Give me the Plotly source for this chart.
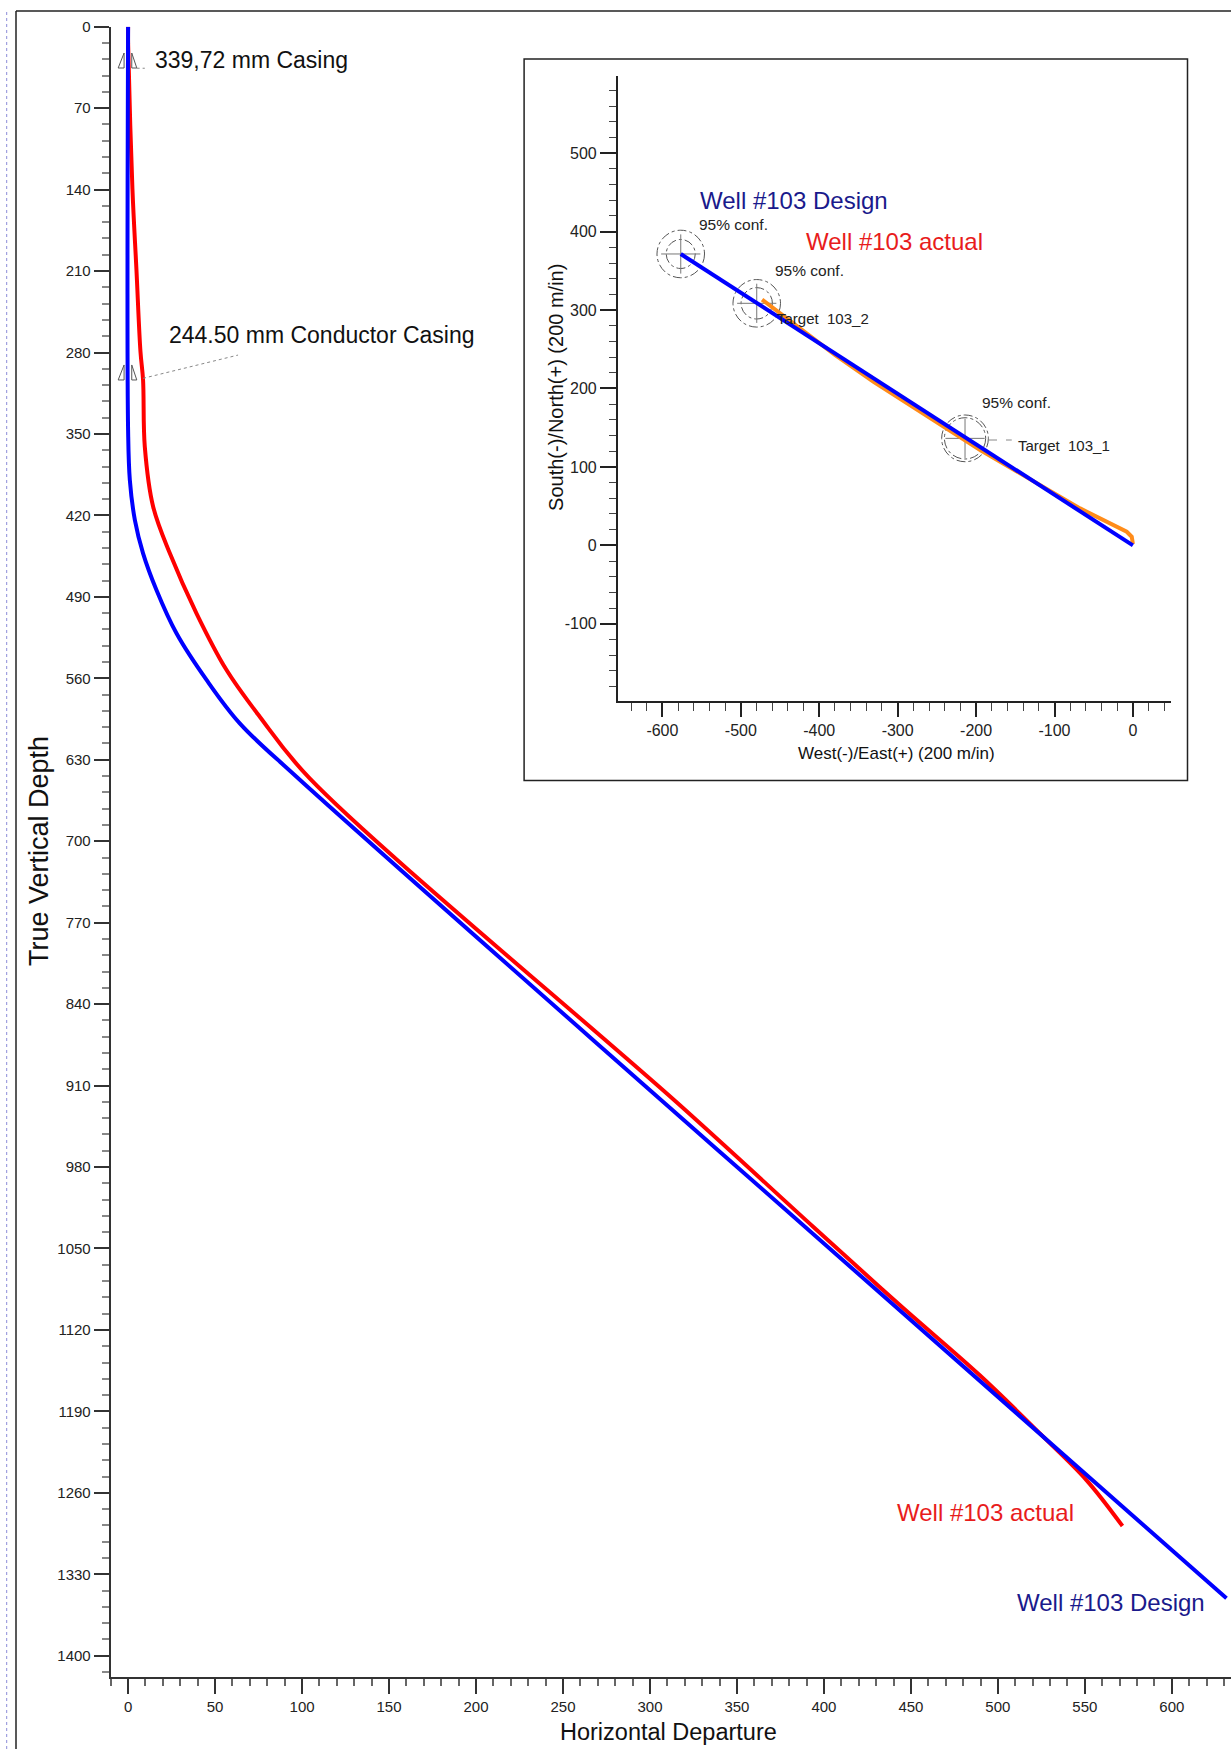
import plotly.graph_objects as go

# ---------------- data ----------------
# Main vertical section: Horizontal Departure (m) vs True Vertical Depth (m)
design_hd = [0, 0, 1.0, 3.9, 8.6, 16.3, 27.8, 45.1, 64.2, 96.8, 340.1, 631.4]
design_tvd = [0, 346.6, 389.6, 424, 452.6, 484.1, 521.3, 561.4, 598.7, 644.6, 966.8, 1350.6]

actual_hd = [0, 0, 2.5, 4.8, 7.1, 8.6, 9.6, 14.4, 24.0, 39.3, 56.6, 75.7, 104.4,
             317.1, 393.8, 443.6, 489.6, 524.1, 550.9, 571.6]
actual_tvd = [0, 14, 139.5, 209, 279, 303.6, 361, 412.5, 452.6, 504.1, 552.9, 593, 646,
              926.7, 1031.3, 1098.6, 1159, 1208.9, 1249, 1288.5]

casing_depths = [35.5, 303.6]
casing_labels = ["339,72 mm Casing", "244.50 mm Conductor Casing"]

# Inset plan view: West(-)/East(+) vs South(-)/North(+)
design_ew = [-576.6, 0]
design_ns = [371.5, 0]

actual_ew = [-472.9, -423.4, -380, -330.7, -245.7, -194.8, -67.4, -33.4, -7.9, -1.5, 0]
actual_ns = [313.4, 276.3, 243, 208.4, 153.2, 121.4, 47.1, 30.1, 17.3, 11, 1.7]

target_ew = [-576.6, -479.7, -214.1]
target_ns = [371.5, 308.6, 136.4]
target_outer_r = [30.3, 30.3, 29.8]
target_inner_r = [18.5, 20.0, 26.3]

inset_x_tickvals = [-600, -500, -400, -300, -200, -100, 0]
inset_x_ticktext = ["-600", "-500", "-400", "-300", "-200", "-100", "0"]
inset_y_tickvals = [-100, 0, 100, 200, 300, 400, 500]
inset_y_ticktext = ["-100", "0", "100", "200", "300", "400", "500"]

# ---------------- figure ----------------
W, H = 1231, 1749
FONT = "Liberation Sans, Arial, Helvetica, sans-serif"
RED = "#ff0000"
BLUE = "#0000ff"
NAVY = "#1a1a8c"
RED_TXT = "#e81c1c"
ORANGE = "#ff8c1a"


def px(x):
    return x / W


def py(y):
    return 1 - y / H


fig = go.Figure()

# main plot traces
fig.add_trace(go.Scatter(x=actual_hd, y=actual_tvd, mode="lines",
                         line=dict(color=RED, width=4, shape="spline", smoothing=1.0),
                         xaxis="x", yaxis="y", showlegend=False, hoverinfo="skip"))
fig.add_trace(go.Scatter(x=design_hd, y=design_tvd, mode="lines",
                         line=dict(color=BLUE, width=4, shape="spline", smoothing=1.0),
                         xaxis="x", yaxis="y", showlegend=False, hoverinfo="skip"))

# casing shoe symbols
for d in casing_depths:
    h = 12.9
    for xin, xout in [(-2.3, -5.7), (2.1, 5.0)]:
        fig.add_trace(go.Scatter(x=[xin, xin, xout, xin], y=[d - h, d, d, d - h], mode="lines",
                                 line=dict(color="#555555", width=1),
                                 xaxis="x", yaxis="y", showlegend=False, hoverinfo="skip"))

# inset traces
fig.add_trace(go.Scatter(x=actual_ew, y=actual_ns, mode="lines",
                         line=dict(color=ORANGE, width=4),
                         xaxis="x2", yaxis="y2", showlegend=False, hoverinfo="skip"))
fig.add_trace(go.Scatter(x=design_ew, y=design_ns, mode="lines",
                         line=dict(color=BLUE, width=4),
                         xaxis="x2", yaxis="y2", showlegend=False, hoverinfo="skip"))

shapes = []
# page frame lines
shapes.append(dict(type="line", xref="paper", yref="paper", x0=px(6.7), x1=px(6.7), y0=0, y1=py(10),
                   line=dict(color="#8c8cd8", width=1, dash="dot")))
shapes.append(dict(type="line", xref="paper", yref="paper", x0=px(16), x1=px(16), y0=0, y1=py(11),
                   line=dict(color="#222222", width=1.5)))
shapes.append(dict(type="line", xref="paper", yref="paper", x0=px(16), x1=1, y0=py(11), y1=py(11),
                   line=dict(color="#222222", width=1.5)))
# inset frame
shapes.append(dict(type="rect", xref="paper", yref="paper", x0=px(524.1), x1=px(1187.5),
                   y0=py(780.5), y1=py(59.1), line=dict(color="#222222", width=1.5),
                   fillcolor="rgba(0,0,0,0)", layer="below"))

# casing leader lines
shapes.append(dict(type="line", xref="x", yref="y", x0=4.9, x1=9.6, y0=35.7, y1=35.7,
                   line=dict(color="#888888", width=1, dash="dot")))
shapes.append(dict(type="line", xref="x", yref="y", x0=8.6, x1=63.2, y0=302.2, y1=282.2,
                   line=dict(color="#888888", width=1, dash="dot")))

# targets
for cx, cy, ro, ri in zip(target_ew, target_ns, target_outer_r, target_inner_r):
    for r in (ro, ri):
        shapes.append(dict(type="circle", xref="x2", yref="y2", x0=cx - r, x1=cx + r,
                           y0=cy - r, y1=cy + r, layer="below",
                           line=dict(color="#555555", width=1, dash="dashdot")))
    shapes.append(dict(type="line", xref="x2", yref="y2", x0=cx - 25, x1=cx + 25, y0=cy, y1=cy,
                       layer="below", line=dict(color="#777777", width=1)))
    shapes.append(dict(type="line", xref="x2", yref="y2", x0=cx, x1=cx, y0=cy - 25, y1=cy + 25,
                       layer="below", line=dict(color="#777777", width=1)))
# target 103_1 leader
shapes.append(dict(type="line", xref="x2", yref="y2", x0=-184.8, x1=-154.5, y0=134.3, y1=134.3,
                   line=dict(color="#888888", width=1, dash="dash")))

ann = []


def add_text(text, x, y, size, color="#111111", xref="x", yref="y", xanchor="left", angle=0):
    ann.append(dict(text=text, x=x, y=y, xref=xref, yref=yref, xanchor=xanchor, yanchor="middle",
                    showarrow=False, textangle=angle, font=dict(family=FONT, size=size, color=color)))


add_text(casing_labels[0], 14.2, 28.6, 23)
add_text(casing_labels[1], 22.2, 265, 23)
add_text("Well #103 actual", 440.7, 1277.3, 24, RED_TXT)
add_text("Well #103 Design", 509.7, 1353.8, 24, NAVY)

add_text("Well #103 Design", -554.6, 440.3, 24, NAVY, "x2", "y2")
add_text("Well #103 actual", -419.3, 386.8, 24, RED_TXT, "x2", "y2")
add_text("95% conf.", -556.2, 409.7, 15.5, "#222222", "x2", "y2")
add_text("95% conf.", -459.3, 350.2, 15.5, "#222222", "x2", "y2")
add_text("95% conf.", -195.0, 182.4, 15.5, "#222222", "x2", "y2")
add_text("Target\u00a0\u00a0103_2", -456.3, 289.5, 15, "#222222", "x2", "y2")
add_text("Target\u00a0\u00a0103_1", -149.0, 127.9, 15, "#222222", "x2", "y2")

# axis titles
add_text("True Vertical Depth", px(39), py(851), 27, "#111111", "paper", "paper", "center", -90)
add_text("Horizontal Departure", px(668), py(1731.6), 23.5, "#111111", "paper", "paper", "center")
add_text("West(-)/East(+) (200 m/in)", px(896), py(753.8), 17, "#111111", "paper", "paper", "center")
add_text("South(-)/North(+) (200 m/in)", px(555.3), py(387.6), 20, "#111111", "paper", "paper", "center", -90)

tickfont = dict(family=FONT, size=15, color="#222222")
tickfont2 = dict(family=FONT, size=16, color="#222222")

fig.update_layout(
    width=W, height=H,
    margin=dict(l=0, r=0, t=0, b=0, autoexpand=False),
    paper_bgcolor="white", plot_bgcolor="white",
    showlegend=False,
    shapes=shapes, annotations=ann,
    xaxis=dict(domain=[px(110.7), 1.0], range=[-10, 634], anchor="y",
               showline=True, linecolor="#333333", linewidth=2,
               ticks="outside", ticklen=15, tickwidth=2, tickcolor="#333333",
               tick0=0, dtick=50, tickfont=tickfont,
               minor=dict(dtick=10, ticklen=7, tickwidth=1.5, tickcolor="#666666", ticks="outside"),
               showgrid=False, zeroline=False),
    yaxis=dict(domain=[py(1676.7), py(26.7)], range=[1418, 0], anchor="x",
               showline=True, linecolor="#333333", linewidth=2,
               ticks="outside", ticklen=15, tickwidth=2, tickcolor="#333333",
               tick0=0, dtick=70, tickfont=tickfont,
               minor=dict(dtick=14, ticklen=7, tickwidth=1.5, tickcolor="#888888", ticks="outside"),
               showgrid=False, zeroline=False),
    xaxis2=dict(domain=[px(617.7), px(1170.8)], range=[-657, 48.3], anchor="y2",
                showline=True, linecolor="#222222", linewidth=1.5,
                ticks="outside", ticklen=14, tickwidth=1.5, tickcolor="#222222",
                tickmode="array", tickvals=inset_x_tickvals, ticktext=inset_x_ticktext,
                tickfont=tickfont2,
                minor=dict(tick0=0, dtick=20, ticklen=8, tickwidth=1, tickcolor="#444444", ticks="outside"),
                showgrid=False, zeroline=False),
    yaxis2=dict(domain=[py(701.4), py(75.8)], range=[-199, 598.7], anchor="x2",
                showline=True, linecolor="#222222", linewidth=1.5,
                ticks="outside", ticklen=16, tickwidth=1.5, tickcolor="#222222",
                tickmode="array", tickvals=inset_y_tickvals, ticktext=inset_y_ticktext,
                tickfont=tickfont2,
                minor=dict(tick0=0, dtick=20, ticklen=7, tickwidth=1, tickcolor="#444444", ticks="outside"),
                showgrid=False, zeroline=False),
)

fig.write_html(
    "out.html",
    config={"displayModeBar": False},
    post_script=(
        "document.documentElement.style.margin='0';"
        "document.body.style.margin='0';document.body.style.padding='0';"
        "document.documentElement.style.overflow='hidden';"
        "var gd=document.getElementById('{plot_id}');"
        "gd.style.position='fixed';gd.style.top='0px';gd.style.left='0px';"
    ),
)
